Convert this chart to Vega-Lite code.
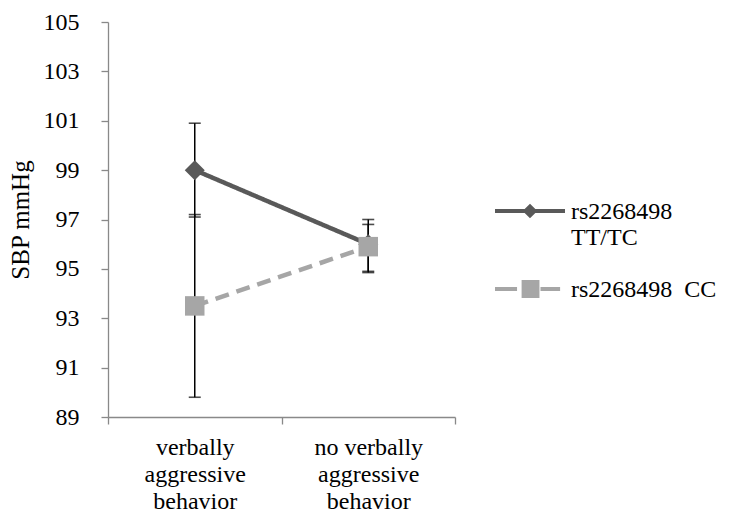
{
  "$schema": "https://vega.github.io/schema/vega-lite/v6.json",
  "autosize": "none",
  "padding": {"left": 108, "top": 22, "right": 282, "bottom": 105},
  "width": 347,
  "height": 395,
  "background": "white",
  "config": {
    "font": "Liberation Serif",
    "view": {"stroke": null},
    "axis": {"labelFont": "Liberation Serif", "titleFont": "Liberation Serif", "labelColor": "black", "titleColor": "black", "domainColor": "#898989", "tickColor": "#898989", "domainWidth": 1.3, "tickWidth": 1.3, "grid": false},
    "legend": {"labelFont": "Liberation Serif", "labelColor": "black", "padding": 0}
  },
  "data": {
    "values": [
      {"cat": "verbally aggressive behavior", "series": "rs2268498 TT/TC", "sbp": 99.0, "lo": 97.1, "hi": 100.9},
      {"cat": "no verbally aggressive behavior", "series": "rs2268498 TT/TC", "sbp": 96.0, "lo": 94.85, "hi": 97.0},
      {"cat": "verbally aggressive behavior", "series": "rs2268498  CC", "sbp": 93.5, "lo": 89.8, "hi": 97.2},
      {"cat": "no verbally aggressive behavior", "series": "rs2268498  CC", "sbp": 95.9, "lo": 94.9, "hi": 96.8}
    ]
  },
  "encoding": {
    "x": {
      "field": "cat", "type": "nominal",
      "sort": ["verbally aggressive behavior", "no verbally aggressive behavior"],
      "scale": {"paddingInner": 0, "paddingOuter": 0},
      "axis": {
        "title": null, "labelAngle": 0, "labelFontSize": 24, "labelLineHeight": 27,
        "tickBand": "extent", "tickSize": 7, "labelPadding": 11,
        "labelBaseline": "top",
        "labelExpr": "datum.label == 'no verbally aggressive behavior' ? ['no verbally', 'aggressive', 'behavior'] : datum.label == 'verbally aggressive behavior' ? ['verbally', 'aggressive', 'behavior'] : ''"
      }
    }
  },
  "layer": [
    {
      "mark": {"type": "line", "strokeWidth": 4.5},
      "encoding": {
        "y": {"field": "sbp", "type": "quantitative", "scale": {"domain": [89, 105], "nice": false, "zero": false},
          "axis": {"title": "SBP mmHg", "titleFontSize": 25, "titleFontWeight": "normal", "titlePadding": 10, "labelFontSize": 24, "values": [89, 91, 93, 95, 97, 99, 101, 103, 105], "tickSize": 7, "labelPadding": 22}},
        "color": {"field": "series", "type": "nominal", "scale": {"domain": ["rs2268498 TT/TC", "rs2268498  CC"], "range": ["#595959", "#A6A6A6"]},
          "legend": {
            "title": null, "orient": "none", "legendX": 387, "legendY": 154,
            "symbolSize": 4900, "symbolStrokeWidth": 0,
            "labelFontSize": 24, "labelLineHeight": 29, "labelOffset": 6, "rowPadding": 4,
            "labelExpr": "datum.label == 'rs2268498 TT/TC' ? ['rs2268498', 'TT/TC'] : 'rs2268498\u00a0 CC'",
            "labelBaseline": "top",
            "encode": {
              "symbols": {"update": {
                "shape": {"signal": "datum.value == 'rs2268498 TT/TC' ? 'M-1,-0.06H1V0.06H-1Z M0,-0.21L0.21,0L0,0.21L-0.21,0Z' : 'M-1,-0.06H-0.37V0.06H-1Z M-0.24,-0.26H0.27V0.26H-0.24Z M0.3,-0.06H0.86V0.06H0.3Z'"},
                "fill": {"signal": "datum.value == 'rs2268498 TT/TC' ? '#595959' : '#A6A6A6'"},
                "stroke": {"value": "transparent"},
                "strokeDash": {"value": [1, 0]},
                "opacity": {"value": 1}
              }},
              "labels": {"update": {"dy": {"value": -11}}}
            }
          }
        },
        "strokeDash": {"field": "series", "type": "nominal", "scale": {"domain": ["rs2268498 TT/TC", "rs2268498  CC"], "range": [[1, 0], [14, 8]]}, "legend": null}
      }
    },
    {
      "mark": {"type": "rule", "color": "black", "strokeWidth": 1.5},
      "encoding": {"y": {"field": "lo", "type": "quantitative"}, "y2": {"field": "hi"}}
    },
    {
      "mark": {"type": "tick", "color": "black", "size": 12, "thickness": 1.6},
      "encoding": {"y": {"field": "lo", "type": "quantitative"}}
    },
    {
      "mark": {"type": "tick", "color": "black", "size": 12, "thickness": 1.6},
      "encoding": {"y": {"field": "hi", "type": "quantitative"}}
    },
    {
      "transform": [{"filter": "datum.series == 'rs2268498 TT/TC'"}],
      "mark": {"type": "point", "filled": true, "opacity": 1, "size": 400, "shape": "diamond"},
      "encoding": {
        "y": {"field": "sbp", "type": "quantitative"},
        "color": {"field": "series", "type": "nominal"}
      }
    },
    {
      "transform": [{"filter": "datum.series == 'rs2268498  CC'"}],
      "mark": {"type": "point", "filled": true, "opacity": 1, "size": 380, "shape": "square"},
      "encoding": {
        "y": {"field": "sbp", "type": "quantitative"},
        "color": {"field": "series", "type": "nominal"}
      }
    }
  ]
}
